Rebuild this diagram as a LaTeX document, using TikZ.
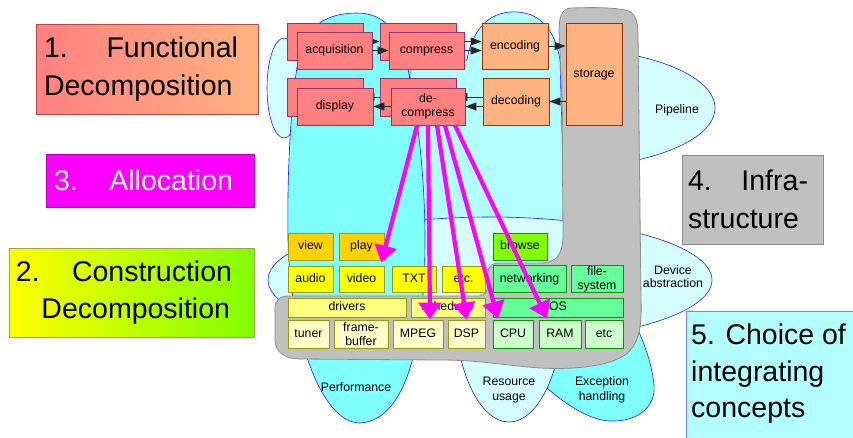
\documentclass[tikz,border=0pt]{standalone}
\usepackage{fontspec}
\setmainfont{Liberation Sans}
\usetikzlibrary{arrows.meta,calc}

\definecolor{fnred}{HTML}{FF8080}
\definecolor{fnredline}{HTML}{993366}
\definecolor{fnorange}{HTML}{FFB380}
\definecolor{fnorangeline}{HTML}{993300}
\definecolor{cyanD}{HTML}{80FFFF}
\definecolor{cyanM}{HTML}{B3FFFF}
\definecolor{cyanL}{HTML}{D5FFFF}
\definecolor{blobline}{HTML}{1A1AFF}
\definecolor{infra}{HTML}{C0C0C0}
\definecolor{infraline}{HTML}{8C8C8C}
\definecolor{gold}{HTML}{FFD200}
\definecolor{yel}{HTML}{FFFF00}
\definecolor{yelL}{HTML}{FFFF80}
\definecolor{yelP}{HTML}{FFFFCC}
\definecolor{yelline}{HTML}{999900}
\definecolor{grnB}{HTML}{80FF00}
\definecolor{grnM}{HTML}{66FF99}
\definecolor{grnP}{HTML}{CCFFCC}
\definecolor{grnline}{HTML}{009900}
\definecolor{alloc}{HTML}{FF00FF}
\definecolor{labAline}{HTML}{B04848}
\definecolor{labBline}{HTML}{A0A050}
\definecolor{choiceline}{HTML}{8080FF}

\begin{document}
\begin{tikzpicture}[x=1pt,y=-1pt,
  font=\fontsize{12.3}{13.5}\selectfont,
  wh/.style 2 args={minimum width=#1pt, minimum height=#2pt},
  blob/.style={draw=blobline, line width=0.6pt},
  boxbase/.style={line width=0.8pt, inner sep=0pt, align=center},
  one/.style={text height=8.9pt, text depth=2.6pt},
  fnbox/.style={boxbase, one, draw=fnredline, fill=fnred},
  fnboxtwo/.style={boxbase, draw=fnredline, fill=fnred},
  encbox/.style={boxbase, one, draw=fnorangeline, fill=fnorange},
  ybox/.style={boxbase, one, draw=yelline},
  yboxtwo/.style={boxbase, draw=yelline},
  gbox/.style={boxbase, one, draw=grnline},
  gboxtwo/.style={boxbase, draw=grnline},
  flow/.style={-{Triangle[length=11pt,width=8pt]}, line width=0.8pt, draw=black!85},
  allocarrow/.style={-{Triangle[length=17pt,width=22pt]}, line width=4.2pt, draw=alloc},
  bigtext/.style={font=\fontsize{28.5}{37.5}\selectfont},
]
\useasboundingbox (0,0) rectangle (853,437);
\fill[white] (0,0) rectangle (853,437);

% ---------- integrating concepts (blobs) ----------
% pipeline
\draw[blob, fill=cyanL] (560,108) ellipse [x radius=155, y radius=60];
% exception handling
\draw[blob, fill=cyanD] (520,360) .. controls (540,385) and (580,420) .. (610,421)
  .. controls (640,422) and (656,405) .. (654,385)
  .. controls (652,365) and (645,345) .. (638,330) -- (540,330) -- cycle;
% resource usage
\draw[blob, fill=cyanL] (509,300) ellipse [x radius=55, y radius=122];
% pipeline core behind the functions
\draw[blob, fill=cyanM] (410,240) -- (410,60) -- (467,60)
  .. controls (470,40) and (482,14) .. (510,12)
  .. controls (540,10) and (555,30) .. (560,60) -- (565,240) -- cycle;
% left end of the pipeline
\draw[blob, fill=cyanL] (284,88) ellipse [x radius=17, y radius=50];
% device abstraction
\draw[blob, fill=cyanL] (490,280) ellipse [x radius=222, y radius=63];
% performance
\draw[blob, fill=cyanD] (357,13) .. controls (395,13) and (405,50) .. (410,80)
  .. controls (420,130) and (425,190) .. (425,240)
  .. controls (425,330) and (410,420) .. (360,423)
  .. controls (320,423) and (290,330) .. (288,240)
  .. controls (287,180) and (290,100) .. (300,50)
  .. controls (310,20) and (335,13) .. (357,13) -- cycle;

% ---------- infrastructure ----------
\draw[fill=infra, draw=infraline, line width=0.8pt]
  (572,8) .. controls (600,7) and (615,8) .. (625,10)
  .. controls (635,12) and (638,20) .. (638,35)
  -- (641,300) .. controls (642,330) and (638,345) .. (625,355)
  .. controls (610,365) and (580,370) .. (540,368)
  .. controls (500,365) and (480,360) .. (440,360) -- (300,359)
  .. controls (285,359) and (275,352) .. (275,340)
  -- (275,308) .. controls (275,300) and (280,296) .. (290,296)
  -- (478,296) .. controls (486,296) and (488,290) .. (488,280)
  -- (488,272) .. controls (488,266) and (492,263) .. (500,263)
  -- (540,263) .. controls (556,263) and (563,255) .. (563,235)
  -- (562,100) -- (559,30) .. controls (559,15) and (563,8) .. (572,8) -- cycle;

% concept labels
\node (pipeline) at (677,110) {Pipeline};
\node[align=center, font=\fontsize{12.3}{13}\selectfont] (devabs) at (673,276.5) {Device\\abstraction};
\node (perf) at (356,387) {Performance};
\node[align=center, font=\fontsize{12.3}{15}\selectfont] (resuse) at (509,390) {Resource\\usage};
\node[align=center, font=\fontsize{12.3}{15}\selectfont] (exch) at (602,390) {Exception\\handling};

% ---------- functional decomposition ----------
\node[fnbox, wh={76}{37}] (acqB) at (325,41.5) {};
\node[fnbox, wh={76}{37}] (cmpB) at (418,41.5) {};
\node[fnbox, wh={76}{38}] (dspB) at (325,97) {};
\node[fnbox, wh={76}{38}] (dcmB) at (418,97) {};
\node[encbox, wh={66}{46}] (enc) at (515,46) {encoding};
\node[encbox, wh={66}{47}] (dcd) at (516,101.5) {decoding};
\node[encbox, wh={56}{102}] (sto) at (594,74) {storage};

\draw[flow] (acqB.east) -- (cmpB.west);
\draw[flow] (cmpB.east) -- (cmpB.east -| enc.west);
\draw[flow] (dcmB.east -| dcd.west) -- (dcmB.east);
\draw[flow] (dcmB.west) -- (dspB.east);

\node[fnbox, wh={75}{37}] (acqF) at (334.5,50.5) {acquisition};
\node[fnbox, wh={75}{37}] (cmpF) at (426.5,50.5) {compress};
\node[fnbox, wh={76}{37}] (dspF) at (335,106.5) {display};
\node[fnboxtwo, wh={74}{37}, font=\fontsize{12.3}{14}\selectfont] (dcmF) at (428,106.5) {de-\\compress};

\draw[flow] (acqF.east) -- (cmpF.west);
\draw[flow] (cmpF.east) -- (cmpF.east -| enc.west);
\draw[flow] (enc.east) -- (enc.east -| sto.west);
\draw[flow] (dcd.east -| sto.west) -- (dcd.east);
\draw[flow] (dcmF.east -| dcd.west) -- (dcmF.east);
\draw[flow] (dcmF.west) -- (dspF.east);

% ---------- construction decomposition ----------
\node[ybox, fill=gold, wh={45}{27}] (view) at (310.5,246.5) {view};
\node[ybox, fill=gold, wh={45}{27}] (play) at (361.5,246.5) {play};
\node[gbox, fill=grnB, wh={54}{27}] (browse) at (520,246.5) {browse};

\node[ybox, fill=yel, wh={45}{26}] (audio) at (310.5,279) {audio};
\node[ybox, fill=yel, wh={45}{26}] (video) at (361.5,279) {video};
\node[ybox, fill=yel, wh={44}{26}] (txt) at (414,279) {TXT};
\node[ybox, fill=yel, wh={43}{26}] (etcA) at (463.5,279) {etc.};
\node[gbox, fill=grnM, wh={73}{27}] (netw) at (529.5,279) {networking};
\node[gboxtwo, fill=grnM, wh={52}{27}, font=\fontsize{12.3}{14}\selectfont] (fsys) at (597,279) {file-\\system};

\node[ybox, fill=yelL, wh={118}{19}] (drivers) at (347,307.5) {drivers};
\node[ybox, fill=yelL, wh={74}{19}] (sched) at (448,307.5) {scheduler};
\node[gbox, fill=grnM, wh={130}{19}] (os) at (558,307.5) {OS};

\node[ybox, fill=yelP, wh={41}{28}] (tuner) at (308.5,334) {tuner};
\node[yboxtwo, fill=yelP, wh={54}{28}, font=\fontsize{12.3}{13.5}\selectfont] (fbuf) at (361,334) {frame-\\buffer};
\node[ybox, fill=yelP, wh={50}{28}] (mpeg) at (418,334) {MPEG};
\node[ybox, fill=yelP, wh={37}{28}] (dsp) at (466.5,334) {DSP};
\node[gbox, fill=grnP, wh={40}{28}] (cpu) at (513,334) {CPU};
\node[gbox, fill=grnP, wh={42}{28}] (ram) at (560,334) {RAM};
\node[gbox, fill=grnP, wh={38}{28}] (etcB) at (604,334) {etc};

% ---------- allocation ----------
\draw[allocarrow] ([xshift=-11pt]dcmF.south) -- ([xshift=-3pt,yshift=3pt]video.north east);
\draw[allocarrow] (dcmF.south) -- ([xshift=12pt]mpeg.north);
\draw[allocarrow] ([xshift=9pt]dcmF.south) -- (dsp.north);
\draw[allocarrow] ([xshift=17pt]dcmF.south) -- ([xshift=-15pt,yshift=1pt]cpu.north);
\draw[allocarrow] ([xshift=27pt]dcmF.south) -- ([xshift=-13pt,yshift=1pt]ram.north);

% ---------- headings ----------
\node[draw=labAline, line width=0.8pt, left color=fnred, right color=fnorange, wh={222}{90},
  text width=206pt, inner xsep=8pt, inner ysep=0pt, align=left, bigtext] (funcdec) at (147,69)
  {\makebox[194pt][l]{1.\hfill Functional}\\Decomposition};
\node[draw=alloc!70!black, line width=0.8pt, fill=alloc, wh={208}{53},
  text width=192pt, inner xsep=8pt, inner ysep=0pt, align=left, bigtext, text=white] (allocation) at (150,180.5)
  {\makebox[179pt][l]{3.\hfill Allocation}};
\node[draw=labBline, line width=0.8pt, left color=yel, right color=grnB, wh={245}{89},
  text width=231pt, inner xsep=7pt, inner ysep=0pt, align=left, bigtext] (constdec) at (131.5,292.5)
  {\makebox[216pt][l]{2.\hfill Construction}\\\makebox[214pt][r]{Decomposition}};
\node[draw=infraline, line width=0.8pt, fill=infra, wh={141}{89},
  text width=129pt, inner xsep=6pt, inner ysep=0pt, align=left, bigtext] (infrastructure) at (752.5,199.5)
  {\makebox[120pt][l]{4.\hfill Infra-}\\structure};
\fill[cyanM] (686,311) rectangle (860,445);
\draw[choiceline, line width=1pt] (860,311) -- (686,311) -- (686,445);
\node[anchor=north west, inner sep=0pt, align=left, font=\fontsize{28.5}{36.5}\selectfont] (choice) at (691,324)
  {5. Choice of\\integrating\\concepts};
\end{tikzpicture}
\end{document}
